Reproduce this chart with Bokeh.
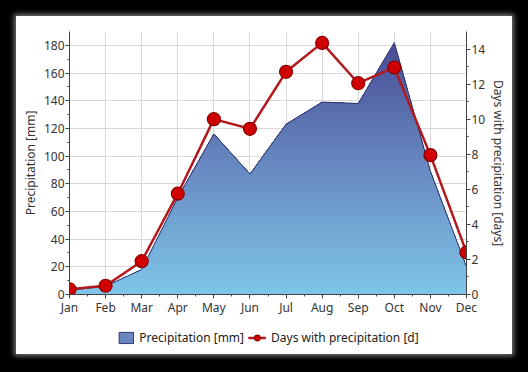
import numpy as np
from bokeh.plotting import figure
from bokeh.layouts import column
from bokeh.models import (Range1d, LinearAxis, FixedTicker, Legend, LegendItem)
from bokeh.embed import file_html
from bokeh.resources import INLINE

months = ["Jan", "Feb", "Mar", "Apr", "May", "Jun", "Jul", "Aug", "Sep", "Oct", "Nov", "Dec"]
precip_mm = [3, 6, 18, 70, 116, 87, 123, 139, 138, 182, 89, 20]
days = [0.3, 0.5, 1.9, 5.75, 10.0, 9.45, 12.7, 14.35, 12.05, 12.95, 7.95, 2.4]

FONT = "Noto Sans"
x = np.arange(len(months), dtype=float)
f = np.array(precip_mm, dtype=float)

AREA_FILL = "#6a86c0"
AREA_LINE = "#2f3470"
RED_LINE = "#b3181d"
RED_FILL = "#d00000"
RED_EDGE = "#8a0000"

p = figure(frame_width=397, frame_height=263, output_backend="svg", toolbar_location=None,
           x_range=Range1d(0, 11), y_range=Range1d(0, 190),
           min_border_left=53, min_border_right=46, min_border_top=15, min_border_bottom=26)
p.background_fill_color = "white"
p.border_fill_color = "white"
p.outline_line_color = None
p.extra_y_ranges = {"days": Range1d(0, 15)}

# gradient area via stacked bands (exact piecewise-linear clipping)
levels = np.linspace(0, f.max(), 62)
xd = list(x)
for i in range(len(x) - 1):
    a, b = f[i], f[i + 1]
    lo, hi = min(a, b), max(a, b)
    for L in levels:
        if lo < L < hi:
            xd.append(x[i] + (L - a) / (b - a))
xd = np.array(sorted(set(xd)))
fd = np.interp(xd, x, f)

top_c = np.array([0x48, 0x4c, 0x95], dtype=float)
mid_c = np.array([0x68, 0x8a, 0xc2], dtype=float)
bot_c = np.array([0x7e, 0xc6, 0xe8], dtype=float)

def col(t):
    if t < 0.5:
        c = bot_c + (mid_c - bot_c) * (t / 0.5)
    else:
        c = mid_c + (top_c - mid_c) * ((t - 0.5) / 0.5)
    return "#%02x%02x%02x" % tuple(int(round(v)) for v in c)

zeros = np.zeros_like(xd)
for k in range(len(levels) - 1, 0, -1):
    t = (levels[k - 1] + levels[k]) / 2 / f.max()
    p.varea(x=xd, y1=zeros, y2=np.minimum(fd, levels[k]), fill_color=col(t))
p.line(x, f, line_color=AREA_LINE, line_width=1)

# days line
p.line(x, days, y_range_name="days", line_color=RED_LINE, line_width=2.5)
p.scatter(x, days, y_range_name="days", size=13, fill_color=RED_FILL,
          line_color=RED_EDGE, line_width=1.2)

# axes
p.xaxis.ticker = FixedTicker(ticks=list(range(12)),
                             minor_ticks=list(np.arange(0.5, 11, 0.5)))
p.xaxis.major_label_overrides = {i: m for i, m in enumerate(months)}
p.yaxis.ticker = FixedTicker(ticks=list(range(0, 181, 20)),
                             minor_ticks=list(range(10, 190, 20)))
p.yaxis.axis_label = "Precipitation [mm]"

ra = LinearAxis(y_range_name="days", axis_label="Days with precipitation [days]",
                ticker=FixedTicker(ticks=list(range(0, 15, 2)),
                                   minor_ticks=list(range(1, 15, 2))))
p.add_layout(ra, "right")

for ax in [p.xaxis[0], p.yaxis[0], ra]:
    ax.axis_line_color = "#444444"
    ax.major_tick_line_color = "#444444"
    ax.minor_tick_line_color = "#444444"
    ax.major_tick_out = 4
    ax.major_tick_in = 0
    ax.minor_tick_out = 2
    ax.minor_tick_in = 0
    ax.major_label_text_font = FONT
    ax.major_label_text_font_size = "12px"
    ax.major_label_text_color = "#333333"
    ax.axis_label_text_font = FONT
    ax.axis_label_text_font_size = "12px"
    ax.axis_label_text_font_style = "normal"
    ax.axis_label_text_color = "#333333"
    ax.major_label_standoff = 1
    ax.axis_label_standoff = 2
p.xaxis.major_label_standoff = 0

p.xgrid.ticker = FixedTicker(ticks=list(range(12)))
p.ygrid.ticker = FixedTicker(ticks=list(range(0, 181, 20)))
p.xgrid.grid_line_color = "#d9d9d9"
p.ygrid.grid_line_color = "#d9d9d9"

# legend strip below the chart (dummy renderers placed outside the visible range)
lg = figure(width=496, height=34, output_backend="svg", toolbar_location=None,
            x_range=Range1d(0, 1), y_range=Range1d(0, 1),
            min_border_left=0, min_border_right=0, min_border_top=0, min_border_bottom=0,
            x_axis_location=None, y_axis_location=None)
lg.grid.visible = False
lg.outline_line_color = None
lg.background_fill_color = "white"
lg.border_fill_color = "white"
area_dummy = lg.patch(x=[-5, -4, -4], y=[-5, -5, -4], fill_color=AREA_FILL,
                      line_color=AREA_LINE, line_width=1)
ln_dummy = lg.line(x=[-5, -4], y=[-5, -5], line_color=RED_LINE, line_width=2.5)
sc_dummy = lg.scatter(x=[-5], y=[-5], size=11, fill_color=RED_FILL, line_color=RED_EDGE,
                      line_width=1.2)
legend = Legend(items=[LegendItem(label="Precipitation [mm]", renderers=[area_dummy]),
                       LegendItem(label="Days with precipitation [d]",
                                  renderers=[ln_dummy, sc_dummy])],
                orientation="horizontal", location="center",
                label_text_font=FONT, label_text_font_size="12px",
                label_text_color="#222222", border_line_color=None,
                background_fill_alpha=0, glyph_width=18, glyph_height=14,
                label_standoff=5, spacing=4, padding=2, margin=0)
lg.add_layout(legend, "center")

layout = column(p, lg, spacing=0)
layout.styles = {"box-shadow": "0 0 5px 2px rgba(255,255,255,0.45)", "background": "white"}

html = file_html(layout, INLINE)
html = html.replace("</head>",
                    "<style>html,body{background:#000000;}body{margin:0 !important;padding:16px !important;}</style></head>", 1)
open("out.html", "w").write(html)
